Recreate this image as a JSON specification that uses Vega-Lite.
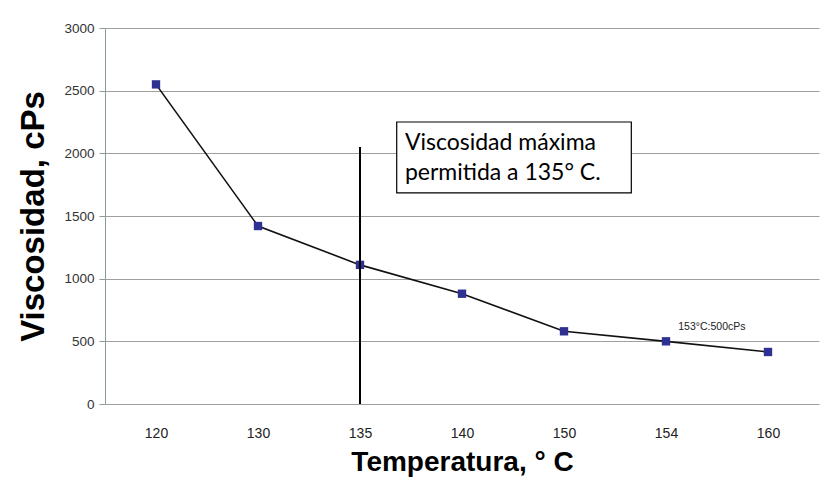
{
  "$schema": "https://vega.github.io/schema/vega-lite/v6.json",
  "width": 714,
  "height": 376,
  "autosize": "none",
  "padding": {"left": 105, "top": 28, "right": 18, "bottom": 80},
  "background": "white",
  "config": {"view": {"stroke": null}},
  "datasets": {
    "visc": [
      {"temp": 120, "visc": 2550},
      {"temp": 130, "visc": 1420},
      {"temp": 135, "visc": 1110},
      {"temp": 140, "visc": 880},
      {"temp": 150, "visc": 580},
      {"temp": 154, "visc": 500},
      {"temp": 160, "visc": 415}
    ]
  },
  "layer": [
    {
      "layer": [
        {
          "data": {"name": "visc"},
          "mark": {"type": "line", "color": "#111111", "strokeWidth": 1.6},
          "encoding": {
            "x": {
              "field": "temp", "type": "ordinal",
              "scale": {"type": "point", "padding": 0.5},
              "axis": {
                "title": "Temperatura, ° C",
                "labelAngle": 0, "labelFont": "Liberation Sans", "labelFontSize": 14, "labelColor": "#222222",
                "labelPadding": 22, "ticks": false, "domain": false, "grid": false,
                "titleFont": "Liberation Sans", "titleFontSize": 28, "titleFontWeight": "bold", "titleColor": "#000000",
                "titleBaseline": "middle", "titleY": 58
              }
            },
            "y": {
              "field": "visc", "type": "quantitative",
              "scale": {"domain": [0, 3000]},
              "axis": {
                "title": "Viscosidad, cPs",
                "values": [0, 500, 1000, 1500, 2000, 2500, 3000],
                "format": "d",
                "labelFont": "Liberation Sans", "labelFontSize": 13.5, "labelColor": "#333333", "labelPadding": 5,
                "domainColor": "#8c9ba0", "tickColor": "#8c9ba0", "tickSize": 6,
                "grid": true, "gridColor": "#a0a0a0", "gridWidth": 1,
                "titleFont": "Liberation Sans", "titleFontSize": 33, "titleFontWeight": "bold", "titleColor": "#000000",
                "titleAngle": -90, "titleBaseline": "middle", "titleAlign": "center", "titleX": -72, "titleY": 188
              }
            }
          }
        },
        {
          "data": {"name": "visc"},
          "mark": {"type": "square", "size": 70, "filled": true, "color": "#2e3192", "opacity": 1},
          "encoding": {
            "x": {"field": "temp", "type": "ordinal"},
            "y": {"field": "visc", "type": "quantitative"}
          }
        },
        {
          "data": {"values": [{"temp": 135, "y0": 0, "y1": 2050}]},
          "mark": {"type": "rule", "color": "#000000", "strokeWidth": 2},
          "encoding": {
            "x": {"field": "temp", "type": "ordinal"},
            "y": {"field": "y0", "type": "quantitative"},
            "y2": {"field": "y1"}
          }
        }
      ]
    },
    {
      "layer": [
        {
          "data": {"values": [{"p0": 2.36, "p1": 4.66, "v0": 1684, "v1": 2250}]},
          "mark": {"type": "rect", "fill": "white", "stroke": "#000000", "strokeWidth": 1.2},
          "encoding": {
            "x": {"field": "p0", "type": "quantitative", "scale": {"domain": [-0.5, 6.5], "nice": false, "zero": false}, "axis": null},
            "x2": {"field": "p1"},
            "y": {"field": "v0", "type": "quantitative"},
            "y2": {"field": "v1"}
          }
        },
        {
          "data": {"values": [
            {"p": 2.44, "v": 2027, "t": "Viscosidad máxima"},
            {"p": 2.44, "v": 1787, "t": "permitida a 135° C."}
          ]},
          "mark": {"type": "text", "align": "left", "baseline": "alphabetic", "font": "Lato", "fontSize": 23, "color": "#000000"},
          "encoding": {
            "x": {"field": "p", "type": "quantitative"},
            "y": {"field": "v", "type": "quantitative"},
            "text": {"field": "t"}
          }
        },
        {
          "data": {"values": [{"p": 5.45, "v": 615, "t": "153°C:500cPs"}]},
          "mark": {"type": "text", "align": "center", "baseline": "middle", "font": "Liberation Sans", "fontSize": 10.5, "color": "#222222"},
          "encoding": {
            "x": {"field": "p", "type": "quantitative"},
            "y": {"field": "v", "type": "quantitative"},
            "text": {"field": "t"}
          }
        }
      ]
    }
  ],
  "resolve": {"scale": {"x": "independent"}}
}
